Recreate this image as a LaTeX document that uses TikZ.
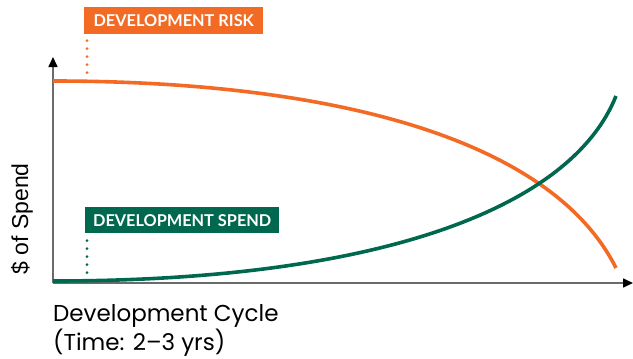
\documentclass[tikz,border=0pt]{standalone}
\usepackage{fontspec}
\setmainfont{Liberation Sans}
\newfontfamily\labfont{Lato}
\newfontfamily\axfont{Poppins}
\usetikzlibrary{arrows.meta}
\definecolor{riskorange}{HTML}{F26A24}
\definecolor{spendgreen}{HTML}{00684F}
\definecolor{axisgray}{HTML}{6B6B6B}
\tikzset{
  tag/.style={fill=#1, text=white, font=\labfont\bfseries\fontsize{16.3}{16}\selectfont,
    inner sep=0pt, anchor=north west, align=center},
  dotline/.style={draw=#1, line width=3pt, line cap=round, dash pattern=on 0pt off 8pt},
  axisline/.style={draw=axisgray, line width=1.6pt, -{Triangle[black,length=10pt,width=9pt]}},
  curve/.style={draw=#1, line width=3.6pt, line cap=butt},
  axislabel/.style={font=\axfont\fontsize{23}{28}\selectfont, text=black, inner sep=0pt, anchor=base west}
}
\begin{document}
\begin{tikzpicture}[x=1pt,y=-1pt]
\useasboundingbox (0,0) rectangle (633,359);
% axes
\coordinate (o) at (53,283);
\coordinate (ytop) at (53,57);
\coordinate (xend) at (633,283);
\draw[axisline] (o) -- (ytop);
\draw[axisline] (o) -- (xend);
% curves
\coordinate (r0) at (53,81);
\coordinate (r1) at (330,81);
\coordinate (r2) at (551,138);
\coordinate (r3) at (616,268);
\draw[curve=riskorange] (r0) .. controls (r1) and (r2) .. (r3);
\coordinate (s0) at (53,281);
\coordinate (s1) at (378,281);
\coordinate (s2) at (571,208.5);
\coordinate (s3) at (616,96);
\draw[curve=spendgreen] (s0) .. controls (s1) and (s2) .. (s3);
% tags
\node[tag=riskorange, minimum width=179pt, minimum height=27pt] (risk) at (84,7) {DEVELOPMENT RISK};
\node[tag=spendgreen, minimum width=194pt, minimum height=26pt] (spend) at (85,207) {DEVELOPMENT SPEND};
\coordinate (riskstart) at (87,40.7);
\coordinate (riskend) at (87,73);
\coordinate (spendstart) at (87,240.5);
\coordinate (spendend) at (87,273);
\draw[dotline=riskorange] (riskstart) -- (riskend);
\draw[dotline=spendgreen] (spendstart) -- (spendend);
% axis labels
\node[font=\fontsize{23}{23}\selectfont, rotate=90, inner sep=0pt] (ylab) at (22,219) {\$ of Spend};
\node[axislabel] (xlab1) at (53,321) {Development Cycle};
\node[axislabel] (xlab2) at (53,350) {(Time: 2–3 yrs)};
\end{tikzpicture}
\end{document}
